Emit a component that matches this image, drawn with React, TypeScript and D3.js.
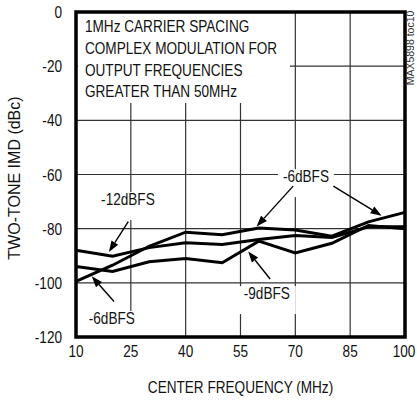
import React from "react";
import * as d3 from "d3";

const freqs = [10, 20, 30, 40, 50, 60, 70, 80, 90, 100];
const imd6 = [-99.5, -93.5, -86.5, -81.3, -82.2, -79.8, -80.5, -82.8, -77.5, -74];
const imd9 = [-94, -95.8, -92.2, -91, -92.6, -84.6, -89, -85.4, -78.8, -80];
const imd12 = [-88, -90.2, -87, -85.2, -85.8, -84, -82.5, -83.3, -79.3, -79.3];

const xTicks = [10, 25, 40, 55, 70, 85, 100];
const yTicks = [0, -20, -40, -60, -80, -100, -120];

const noteLines = [
  "1MHz CARRIER SPACING",
  "COMPLEX MODULATION FOR",
  "OUTPUT FREQUENCIES",
  "GREATER THAN 50MHz",
];

// labels: text, anchor (freq, dB) baseline-centre
const labelTexts = ["-12dBFS", "-6dBFS", "-9dBFS", "-6dBFS"];
const labelFreq = [24.2, 19.8, 62.2, 72.9];
const labelDb = [-71.3, -115.2, -106, -62.8];

// arrows: tail (freq, dB) -> tip (freq, dB)
const arrowTailF = [24.3, 20.4, 63.1, 69.4, 80.4];
const arrowTailDb = [-77.4, -106.9, -98.6, -64.3, -64.3];
const arrowTipF = [19.0, 14.3, 57.1, 59.4, 93.6];
const arrowTipDb = [-88.6, -97.6, -88.4, -79.2, -75.2];

const FONT = "'Liberation Sans', Arial, Helvetica, sans-serif";
const SX = 0.85;

function NText(props: {
  x: number;
  y: number;
  anchor?: string;
  size?: number;
  rotate?: number;
  sx?: number;
  fill?: string;
  children: React.ReactNode;
}) {
  const { x, y, anchor = "start", size = 16, rotate = 0, sx = SX, fill = "#111" } = props;
  return (
    <text
      transform={`translate(${x},${y}) rotate(${rotate}) scale(${sx},1)`}
      textAnchor={anchor}
      fontFamily={FONT}
      fontSize={size}
      fill={fill}
    >
      {props.children}
    </text>
  );
}

export default function App() {
  const W = 417;
  const H = 400;
  const x = d3.scaleLinear().domain([10, 100]).range([76, 405]);
  const y = d3.scaleLinear().domain([-120, 0]).range([337, 12]);

  const line = d3
    .line<[number, number]>()
    .x((d) => x(d[0]))
    .y((d) => y(d[1]))
    .curve(d3.curveLinear);

  const series = [imd6, imd9, imd12].map((vals) =>
    freqs.map((f, i) => [f, vals[i]] as [number, number])
  );

  const labelW = [58, 52, 54, 52];

  const arrows = arrowTailF.map((tf, i) => {
    const x1 = x(tf);
    const y1 = y(arrowTailDb[i]);
    const x2 = x(arrowTipF[i]);
    const y2 = y(arrowTipDb[i]);
    const ang = Math.atan2(y2 - y1, x2 - x1);
    const L = 11;
    const Wh = 4;
    const bx = x2 - L * Math.cos(ang);
    const by = y2 - L * Math.sin(ang);
    const px = -Math.sin(ang) * Wh;
    const py = Math.cos(ang) * Wh;
    return { x1, y1, bx, by, x2, y2, px, py };
  });

  return (
    <div style={{ position: "absolute", left: 0, top: 0 }}>
      <svg width={W} height={H} style={{ display: "block", background: "#fff" }}>
        <rect x={0} y={0} width={W} height={H} fill="#fff" />
        {/* grid */}
        {xTicks.slice(1, -1).map((t) => (
          <line key={"gx" + t} x1={x(t)} x2={x(t)} y1={y(0)} y2={y(-120)} stroke="#333" strokeWidth={1.2} />
        ))}
        {yTicks.slice(1, -1).map((t) => (
          <line key={"gy" + t} x1={x(10)} x2={x(100)} y1={y(t)} y2={y(t)} stroke="#333" strokeWidth={1.2} />
        ))}
        {/* note box */}
        <rect x={x(10) + 2} y={y(0) + 1} width={212} height={90} fill="#fff" />
        {noteLines.map((s, i) => (
          <NText key={"n" + i} x={x(10) + 9} y={y(0) + 20 + i * 21.8}>
            {s}
          </NText>
        ))}
        {/* label backgrounds */}
        {labelTexts.map((s, i) => (
          <rect
            key={"lb" + i}
            x={x(labelFreq[i]) - labelW[i] / 2 - 2}
            y={y(labelDb[i]) - 13}
            width={labelW[i] + 4}
            height={labelDb[i] < -110 ? 32 : 28}
            fill="#fff"
          />
        ))}
        {/* data lines */}
        {series.map((s, i) => (
          <path key={"s" + i} d={line(s) || ""} fill="none" stroke="#000" strokeWidth={3} strokeLinejoin="miter" />
        ))}
        {/* arrows */}
        {arrows.map((a, i) => (
          <g key={"a" + i}>
            <line x1={a.x1} y1={a.y1} x2={a.bx} y2={a.by} stroke="#000" strokeWidth={1.4} />
            <path
              d={`M${a.x2},${a.y2}L${a.bx + a.px},${a.by + a.py}L${a.bx - a.px},${a.by - a.py}Z`}
              fill="#000"
            />
          </g>
        ))}
        {/* labels */}
        {labelTexts.map((s, i) => (
          <NText key={"l" + i} x={x(labelFreq[i])} y={y(labelDb[i])} anchor="middle">
            {s}
          </NText>
        ))}
        {/* frame */}
        <rect x={x(10)} y={y(0)} width={x(100) - x(10)} height={y(-120) - y(0)} fill="none" stroke="#000" strokeWidth={3.5} />
        {/* y ticks */}
        {yTicks.map((t) => (
          <NText key={"yt" + t} x={62} y={Math.max(y(t) + 6, 15)} anchor="end">
            {t}
          </NText>
        ))}
        {/* x ticks */}
        {xTicks.map((t) => (
          <NText key={"xt" + t} x={Math.min(x(t), 404)} y={357} anchor="middle">
            {t}
          </NText>
        ))}
        <NText x={(x(10) + x(100)) / 2} y={393} anchor="middle">
          CENTER FREQUENCY (MHz)
        </NText>
        <NText x={20} y={178} anchor="middle" rotate={-90} sx={1}>
          TWO-TONE IMD (dBc)
        </NText>
        <NText x={414} y={48} anchor="middle" rotate={-90} size={10.5} sx={1} fill="#333">
          MAX5898 toc10
        </NText>
      </svg>
    </div>
  );
}
